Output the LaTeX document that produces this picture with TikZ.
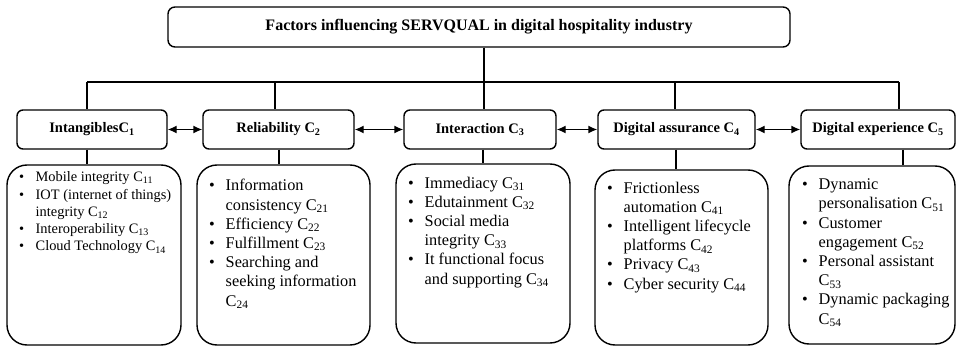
\documentclass[tikz,border=0pt]{standalone}
\usepackage{fontspec}
\setmainfont{Liberation Serif}
\usetikzlibrary{arrows.meta}

% bullet lines inside the lower boxes
\newlength{\bulw}
\setlength{\bulw}{16.5pt}
\newcommand{\itm}[1]{\makebox[\bulw][l]{\textbullet}#1}
\newcommand{\cnt}[1]{\hspace*{\bulw}#1}
\newcommand{\Cs}[1]{C\textsubscript{#1}}

\begin{document}
\begin{tikzpicture}[x=1pt,y=-1pt,
    titlebox/.style={draw,line width=1.4pt,rounded corners=7pt,font=\fontsize{16}{19}\selectfont\bfseries,minimum height=40pt},
    catbox/.style={draw,line width=1.4pt,rounded corners=6pt,font=\fontsize{14.5}{17}\selectfont\bfseries,minimum height=39pt},
    listbox/.style={draw,line width=1.4pt,rounded corners=20pt},
    listtext/.style={anchor=base west,align=left,inner sep=0pt,font=\fontsize{16.3}{19.2}\selectfont},
    link/.style={line width=1.4pt,{Latex[length=9pt,width=8pt]}-{Latex[length=9pt,width=8pt]}},
    wire/.style={line width=1.4pt}]
    \useasboundingbox (0,0) rectangle (957,347);

    % Title
    \node[titlebox,minimum width=622pt] (title) at (479,27) {Factors influencing SERVQUAL in digital hospitality industry};

    % Five dimensions
    \node[catbox,minimum width=150pt] (c1) at (92,129.5) {IntangiblesC\textsubscript{1}};
    \node[catbox,minimum width=151pt] (c2) at (278.5,129.5) {Reliability \Cs{2}};
    \node[catbox,minimum width=152pt] (c3) at (480,129.5) {Interaction \Cs{3}};
    \node[catbox,minimum width=157pt] (c4) at (676.5,129.5) {Digital assurance \Cs{4}};
    \node[catbox,minimum width=154pt] (c5) at (878,129.5) {Digital experience \Cs{5}};

    % Bus from the title down to each dimension
    \coordinate (j1) at (87,82);
    \coordinate (j2) at (275,82);
    \coordinate (j3) at (484,82);
    \coordinate (j4) at (675,82);
    \coordinate (j5) at (899,82);
    \draw[wire] (title.south -| j3) -- (j3);
    \draw[wire] (j1) -- (j5);
    \draw[wire] (j1) -- (j1 |- c1.north);
    \draw[wire] (j2) -- (j2 |- c2.north);
    \draw[wire] (j3) -- (j3 |- c3.north);
    \draw[wire] (j4) -- (j4 |- c4.north);
    \draw[wire] (j5) -- (j5 |- c5.north);

    % Links between neighbouring dimensions
    \draw[link] (c1.east) -- (c2.west);
    \draw[link] (c2.east) -- (c3.west);
    \draw[link] (c3.east) -- (c4.west);
    \draw[link] (c4.east) -- (c5.west);

    % Sub-criteria boxes
    \node[listbox,minimum width=174pt,minimum height=180pt] (b1) at (94,255) {};
    \node[listbox,minimum width=173pt,minimum height=180pt] (b2) at (283.5,255) {};
    \node[listbox,minimum width=174pt,minimum height=179pt] (b3) at (483,253.5) {};
    \node[listbox,minimum width=173pt,minimum height=175pt] (b4) at (681.5,257.5) {};
    \node[listbox,minimum width=166pt,minimum height=178pt] (b5) at (872,255) {};

    \coordinate (k1) at (87,0);
    \coordinate (k2) at (279,0);
    \coordinate (k3) at (483,0);
    \coordinate (k4) at (676,0);
    \coordinate (k5) at (903,0);
    \draw[wire] (c1.south -| k1) -- (b1.north -| k1);
    \draw[wire] (c2.south -| k2) -- (b2.north -| k2);
    \draw[wire] (c3.south -| k3) -- (b3.north -| k3);
    \draw[wire] (c4.south -| k4) -- (b4.north -| k4);
    \draw[wire] (c5.south -| k5) -- (b5.north -| k5);

    % Lists (base anchor sits on the last line)
    \node[listtext,font=\fontsize{14.4}{17.3}\selectfont] (t1) at (19,251) {%
      \itm{Mobile integrity \Cs{11}}\\
      \itm{IOT (internet of things)}\\
      \cnt{integrity \Cs{12}}\\
      \itm{Interoperability \Cs{13}}\\
      \itm{Cloud Technology \Cs{14}}};
    \node[listtext] (t2) at (209,306) {%
      \itm{Information}\\
      \cnt{consistency \Cs{21}}\\
      \itm{Efficiency \Cs{22}}\\
      \itm{Fulfillment \Cs{23}}\\
      \itm{Searching and}\\
      \cnt{seeking information}\\
      \cnt{\Cs{24}}};
    \node[listtext] (t3) at (408,284) {%
      \itm{Immediacy \Cs{31}}\\
      \itm{Edutainment \Cs{32}}\\
      \itm{Social media}\\
      \cnt{integrity \Cs{33}}\\
      \itm{It functional focus}\\
      \cnt{and supporting \Cs{34}}};
    \node[listtext] (t4) at (607,289) {%
      \itm{Frictionless}\\
      \cnt{automation \Cs{41}}\\
      \itm{Intelligent lifecycle}\\
      \cnt{platforms \Cs{42}}\\
      \itm{Privacy \Cs{43}}\\
      \itm{Cyber security \Cs{44}}};
    \node[listtext] (t5) at (802,324) {%
      \itm{Dynamic}\\
      \cnt{personalisation \Cs{51}}\\
      \itm{Customer}\\
      \cnt{engagement \Cs{52}}\\
      \itm{Personal assistant}\\
      \cnt{\Cs{53}}\\
      \itm{Dynamic packaging}\\
      \cnt{\Cs{54}}};
\end{tikzpicture}
\end{document}
